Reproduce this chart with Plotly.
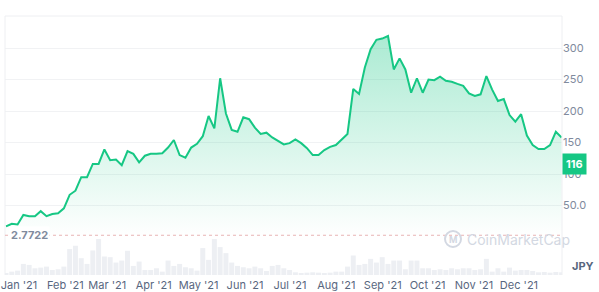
import pandas as pd
import plotly.graph_objects as go

# ---- data ----
start_date = "2020-12-23 08:00"
end_date = "2021-12-29 12:00"

price = [17, 21, 20, 35, 33, 33, 41, 33, 36.5, 37.6, 45.5, 67, 73.5, 95, 95, 116,
         116, 139, 122, 123, 114, 136.5, 132, 118.6, 129, 132, 132, 133, 142, 154,
         130, 126, 142, 148, 160, 192, 172.5, 252, 196, 170, 167, 190, 187, 173.6,
         163.5, 165.6, 158, 152, 147, 149, 155, 149, 141, 130, 130, 138, 143, 146,
         154, 163.5, 235, 227, 269, 298, 313, 315, 319, 266, 283.6, 266, 229, 252,
         229, 250, 249, 254.5, 248, 246.5, 243, 240, 228, 224, 226.5, 255.5, 234,
         216, 219, 193.6, 183, 195, 161, 146, 139.7, 139.7, 146, 167, 158]

volume = [5, 10, 13, 33, 30, 20, 22, 25, 15, 17, 25, 77, 87, 50, 33, 73, 107, 55,
          53, 37, 43, 72, 27, 40, 15, 15, 20, 10, 43, 27, 33, 23, 20, 13, 80, 45,
          107, 83, 65, 37, 27, 23, 20, 25, 20, 12, 27, 30, 20, 15, 8,
          5, 7, 8, 7, 5, 7, 10, 10, 25, 58, 30, 33, 48, 37, 53, 33, 43, 43, 17,
          43, 43, 20, 20, 15, 17, 15, 20, 17, 20, 20, 15, 17, 48, 10, 20, 10, 22,
          13, 15, 15, 12, 8, 9, 7, 9, 8]

month_ticks = ["2021-%02d-01" % m for m in range(1, 13)]
month_labels = ["Jan '21", "Feb '21", "Mar '21", "Apr '21", "May '21", "Jun '21",
                "Jul '21", "Aug '21", "Sep '21", "Oct '21", "Nov '21", "Dec '21"]
price_ticks = [50, 100, 150, 200, 250, 300]
price_tick_labels = ["50.0", "100", "150", "200", "250", "300"]
baseline_value = 2.7722
current_value = 116

dates = pd.date_range(start_date, end_date, periods=len(price))

GREEN = "#16c784"
GRAY = "#808a9d"
FONT = "Inter"

fig = go.Figure()

fig.add_trace(go.Bar(
    x=dates, y=volume, yaxis="y2",
    marker=dict(color="#edeff3", line=dict(width=0)),
    hoverinfo="skip", showlegend=False,
))

fig.add_trace(go.Scatter(
    x=dates, y=price, mode="lines",
    line=dict(color=GREEN, width=2),
    fill="tozeroy",
    fillgradient=dict(type="vertical",
                      colorscale=[[0, "rgba(22,199,132,0.0)"],
                                  [1, "rgba(22,199,132,0.36)"]],
                      start=0, stop=320),
    hoverinfo="skip", showlegend=False,
))

fig.update_layout(
    width=599, height=292,
    margin=dict(l=5, r=37, t=16, b=17),
    paper_bgcolor="white", plot_bgcolor="white",
    font=dict(family=FONT, size=11, color=GRAY),
    bargap=0.14,
    xaxis=dict(
        type="date",
        range=["2020-12-22 16:00", "2021-12-29 18:00"],
        tickvals=month_ticks, ticktext=month_labels,
        showgrid=False, zeroline=False, showline=False,
        ticks="", ticklabelstandoff=2, automargin=False,
        tickfont=dict(size=11, color="#58667e", family=FONT),
        fixedrange=True,
    ),
    yaxis=dict(
        side="right",
        range=[-60.3, 350.8],
        tickvals=price_ticks, ticktext=price_tick_labels,
        showgrid=True, gridcolor="#f1f2f4", gridwidth=1,
        zeroline=False, showline=False, ticks="", automargin=False,
        tickfont=dict(size=11, color=GRAY, family=FONT),
        fixedrange=True,
    ),
    yaxis2=dict(
        overlaying="y", range=[0, 770], visible=False, fixedrange=True,
    ),
    hovermode=False,
)

# frame lines (top, left, right)
for x0, y0, x1, y1 in [(0, 1, 1, 1), (0, 0, 0, 1), (1, 0, 1, 1)]:
    fig.add_shape(type="line", xref="paper", yref="paper",
                  x0=x0, y0=y0, x1=x1, y1=y1,
                  line=dict(color="#eeeff2", width=1))

# baseline dotted line
fig.add_shape(type="line", xref="paper", yref="y",
              x0=0, x1=1, y0=baseline_value, y1=baseline_value,
              line=dict(color="#e8b4b4", width=1, dash="dot"))
fig.add_annotation(xref="paper", yref="y", x=0.008, y=baseline_value,
                   text="<b>%s</b>" % baseline_value, showarrow=False,
                   xanchor="left", yanchor="middle", bgcolor="white",
                   font=dict(size=11, color=GRAY, family=FONT), borderpad=1)

# current price badge
fig.add_annotation(xref="paper", yref="y", x=1.0, y=current_value,
                   text="<b>%d</b>" % current_value, showarrow=False,
                   xanchor="left", yanchor="middle", bgcolor=GREEN,
                   font=dict(size=11, color="white", family=FONT), borderpad=3)

# currency label
fig.add_annotation(xref="paper", yref="paper", x=1.0, y=0.0, xshift=8,
                   text="<b>JPY</b>", showarrow=False,
                   xanchor="left", yanchor="bottom",
                   font=dict(size=11, color="#58667e", family=FONT))

# watermark
fig.add_shape(type="circle", xref="paper", yref="paper",
              x0=(445 - 5) / 557, x1=(461 - 5) / 557,
              y0=(275 - 247) / 259, y1=(275 - 231) / 259,
              line=dict(color="#d3d8e2", width=2))
fig.add_annotation(xref="paper", yref="paper", x=(453 - 5) / 557, y=(275 - 239) / 259,
                   text="<b>M</b>", showarrow=False, xanchor="center", yanchor="middle",
                   font=dict(size=9, color="#d3d8e2", family=FONT))
fig.add_annotation(xref="paper", yref="paper", x=(465 - 5) / 557, y=(275 - 239) / 259,
                   text="CoinMarketCap", showarrow=False, xanchor="left", yanchor="middle",
                   font=dict(size=14, color="#d3d8e2", family=FONT))

fig.write_html("out.html")
